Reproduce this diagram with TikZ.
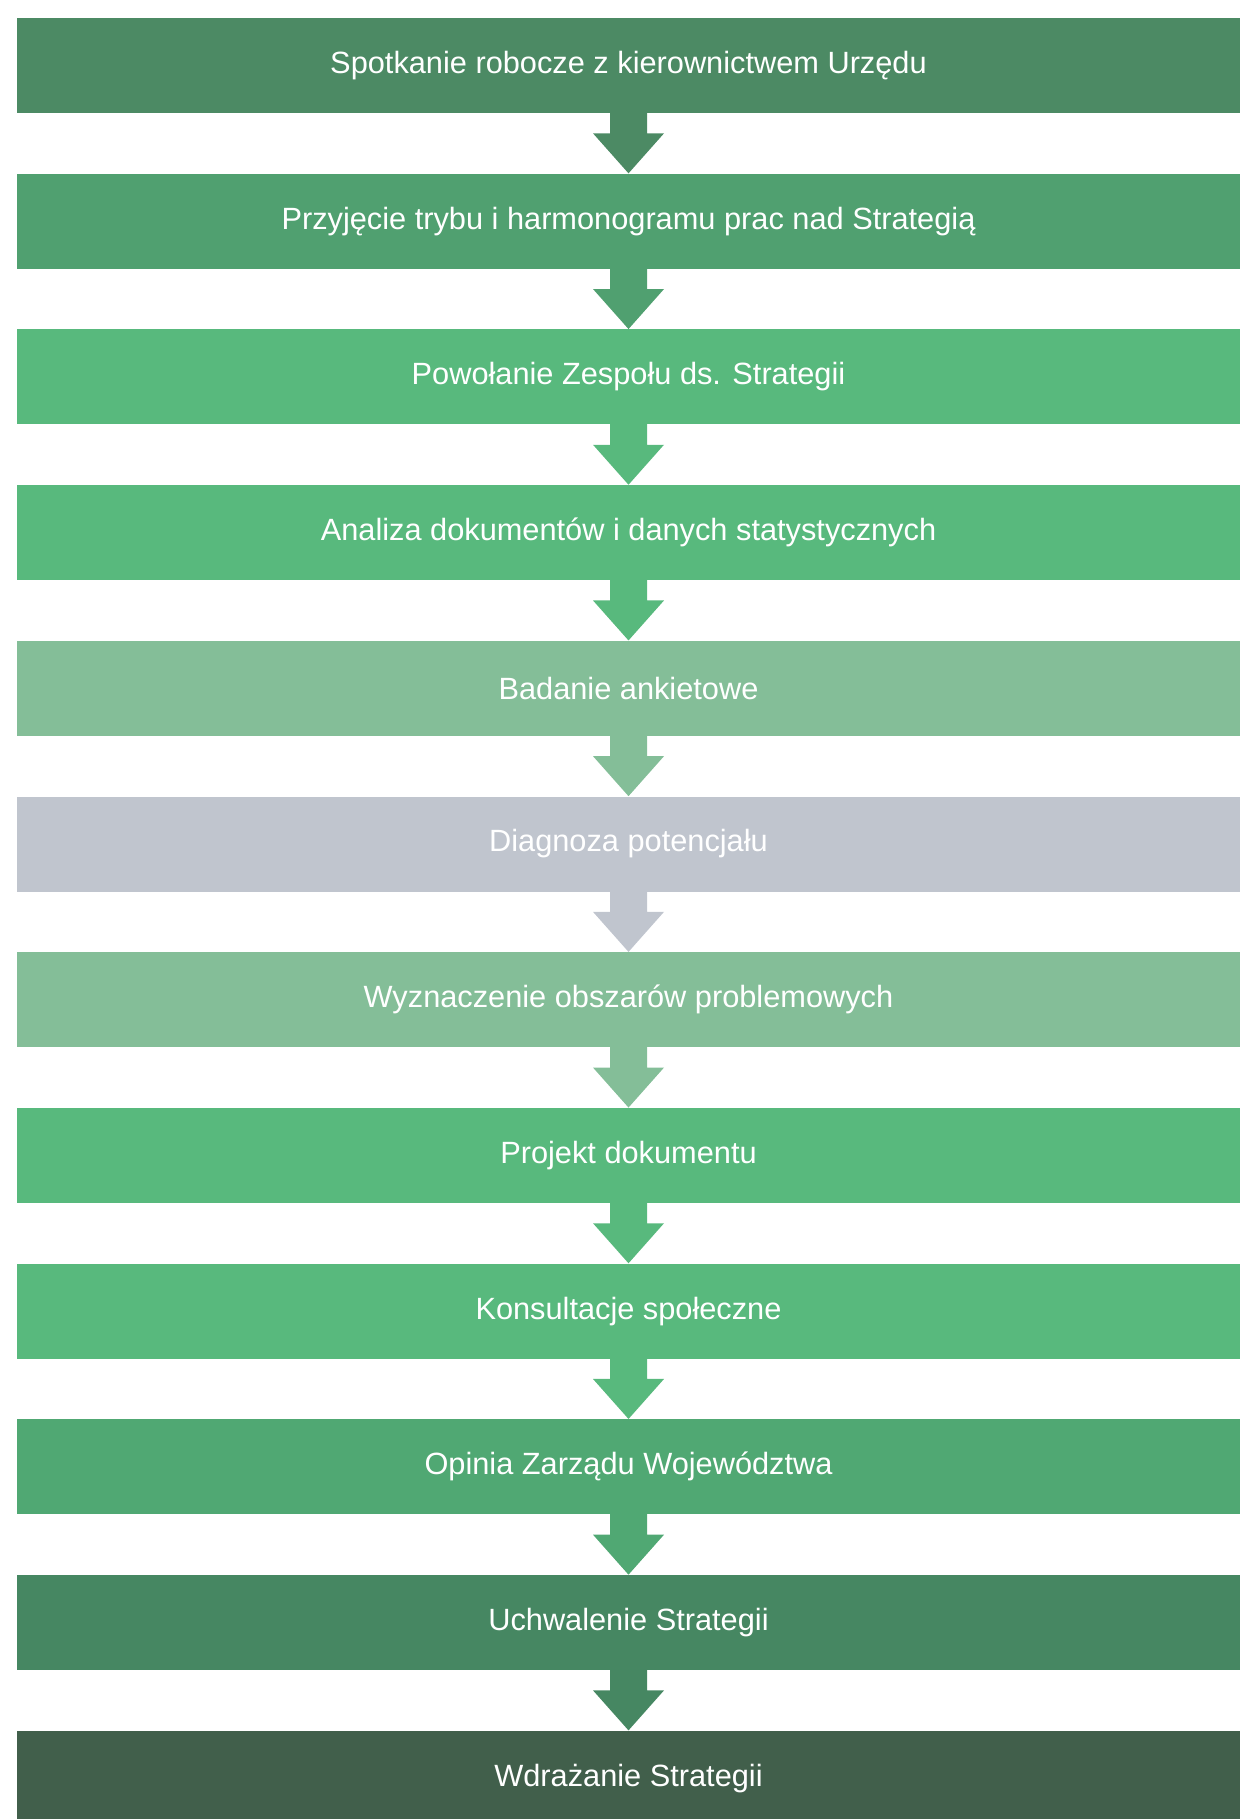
\documentclass[tikz,border=0pt]{standalone}
\usepackage{fontspec}
\setmainfont{Liberation Sans}
\usetikzlibrary{positioning,calc}
\definecolor{greendark}{RGB}{76,138,100}
\definecolor{greenmid}{RGB}{80,160,112}
\definecolor{greenbright}{RGB}{88,185,125}
\definecolor{greenpale}{RGB}{132,190,152}
\definecolor{greygreen}{RGB}{192,197,206}
\definecolor{greenopinia}{RGB}{80,168,115}
\definecolor{greenforest}{RGB}{70,135,98}
\definecolor{greenblack}{RGB}{65,95,75}

\begin{document}
\begin{tikzpicture}[
        stepbar/.style={rectangle, inner sep=0pt, minimum width=24.46cm, minimum height=1.9cm, text=white, font=\fontsize{17.5}{21}\selectfont}]
        \useasboundingbox (0,0) rectangle (24.8,-36.38);
        \node[stepbar,fill=greendark] (spotkanie) at (12.57,-1.31) {Spotkanie robocze z kierownictwem Urzędu};
        \node[stepbar,fill=greenmid] (tryb) [below=1.2cm of spotkanie] {Przyjęcie trybu i harmonogramu prac nad Strategią};
        \node[stepbar,fill=greenbright] (zespol) [below=1.2cm of tryb] {Powołanie Zespołu ds. Strategii};
        \node[stepbar,fill=greenbright] (analiza) [below=1.2cm of zespol] {Analiza dokumentów i danych statystycznych};
        \node[stepbar,fill=greenpale] (ankieta) [below=1.2cm of analiza] {Badanie ankietowe};
        \node[stepbar,fill=greygreen] (diagnoza) [below=1.2cm of ankieta] {Diagnoza potencjału};
        \node[stepbar,fill=greenpale] (obszary) [below=1.2cm of diagnoza] {Wyznaczenie obszarów problemowych};
        \node[stepbar,fill=greenbright] (projekt) [below=1.2cm of obszary] {Projekt dokumentu};
        \node[stepbar,fill=greenbright] (konsultacje) [below=1.2cm of projekt] {Konsultacje społeczne};
        \node[stepbar,fill=greenopinia] (opinia) [below=1.2cm of konsultacje] {Opinia Zarządu Województwa};
        \node[stepbar,fill=greenforest] (uchwala) [below=1.2cm of opinia] {Uchwalenie Strategii};
        \node[stepbar,fill=greenblack] (wdrazanie) [below=1.2cm of uchwala] {Wdrażanie Strategii};
        \foreach \a/\b/\c in {spotkanie/tryb/greendark, tryb/zespol/greenmid, zespol/analiza/greenbright,
                analiza/ankieta/greenbright, ankieta/diagnoza/greenpale, diagnoza/obszary/greygreen,
                obszary/projekt/greenpale, projekt/konsultacje/greenbright, konsultacje/opinia/greenbright,
                opinia/uchwala/greenopinia, uchwala/wdrazanie/greenforest}
            \fill[\c] ($(\a.south)+(-0.37,0.02)$) -- ($(\a.south)+(0.37,0.02)$) -- ++(0,-0.42) -- ++(0.34,0)
                -- (\b.north) -- ($(\a.south)+(-0.71,-0.4)$) -- ++(0.34,0) -- cycle;
\end{tikzpicture}
\end{document}
